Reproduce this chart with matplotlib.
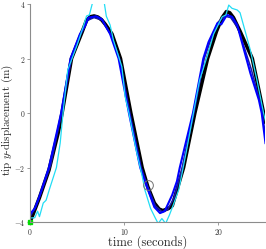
import numpy as np
import matplotlib
matplotlib.use('Agg')
import matplotlib.pyplot as plt

plt.rcParams['font.family'] = 'serif'
plt.rcParams['font.serif'] = ['cmr10', 'DejaVu Serif']
plt.rcParams['mathtext.fontset'] = 'cm'
plt.rcParams['axes.formatter.use_mathtext'] = True

# black: reference trajectory
t_black = [0, 1, 2, 3, 3.4, 4.4, 5.5, 6.0, 6.4, 6.8, 7.2, 7.6, 8.0, 8.7, 9.6, 10.7, 11.9,
           12.5, 13.2, 13.7, 14.1, 14.7, 15.1, 15.7, 16.3, 17.5, 18.85, 19.8, 20.4, 20.85,
           21.2, 21.6, 22.3, 23.6, 24.8, 25.0]
y_black = [-4.0, -3.1, -2.1, -0.7, 0.0, 2.0, 2.95, 3.4, 3.53, 3.56, 3.52, 3.42, 3.25, 2.9,
           2.0, 0.0, -2.0, -2.7, -3.3, -3.52, -3.58, -3.5, -3.4, -2.7, -2.0, 0.0, 2.0, 3.0,
           3.5, 3.72, 3.68, 3.5, 3.0, 2.0, 0.0, -0.35]

# bright blue
t_blue = [0.0, 0.5, 1.0, 2.0, 3.3, 4.3, 5.3, 5.85, 6.2, 7.0, 7.6, 8.5, 9.4, 10.5, 11.7,
          12.4, 13.2, 13.8, 14.3, 15.1, 15.6, 15.9, 17.3, 18.4, 18.95, 19.9, 20.3, 20.9,
          21.45, 22.0, 23.4, 24.3, 24.6, 25.0]
y_blue = [-3.7, -3.5, -3.05, -2.0, 0.0, 2.0, 2.9, 3.2, 3.5, 3.55, 3.45, 2.9, 2.0, 0.0,
          -2.0, -2.7, -3.45, -3.67, -3.6, -3.0, -2.5, -2.0, 0.0, 2.0, 2.6, 3.3, 3.25,
          3.6, 3.53, 3.23, 1.46, 0.48, 0.0, -1.1]

# dark blue
t_navy = [0.0, 0.6, 1.2, 2.2, 3.35, 4.4, 5.4, 6.1, 6.8, 7.7, 8.6, 9.5, 10.6, 11.8, 12.5,
          13.3, 14.0, 14.6, 15.3, 16.1, 17.4, 18.5, 19.4, 20.0, 20.7, 21.3, 22.1, 23.5,
          24.5, 25.0]
y_navy = [-3.8, -3.45, -2.9, -1.9, 0.0, 2.0, 2.9, 3.4, 3.5, 3.4, 2.85, 2.0, 0.0, -2.0,
          -2.7, -3.4, -3.62, -3.55, -3.1, -2.1, 0.0, 2.0, 2.9, 3.35, 3.55, 3.5, 3.1, 1.6,
          0.3, -0.8]

# cyan: noisy estimate
t_cyan = [0.0, 0.5, 0.8, 1.0, 1.4, 1.7, 2.1, 2.8, 3.2, 3.5, 4.0, 5.0, 5.65, 6.0, 6.3, 6.6,
          7.0, 7.4, 7.9, 8.1, 8.5, 8.85, 9.75, 10.1, 10.5, 11.3, 11.9, 12.2, 12.8, 13.3,
          13.6, 14.0, 14.4, 14.8, 15.2, 15.8, 16.1, 16.6, 17.35, 18.0, 18.8, 19.5, 20.4,
          20.8, 21.1, 21.45, 22.0, 22.3, 22.9, 23.4, 24.1, 24.8, 25.0]
y_cyan = [-3.85, -3.84, -3.6, -3.8, -3.3, -3.2, -2.75, -2.0, -1.1, 0.0, 1.58, 2.5, 3.17,
          3.56, 3.6, 4.0, 4.6, 4.6, 4.0, 3.55, 3.23, 2.68, 1.7, 0.6, 0.0, -1.4, -2.3,
          -2.83, -3.5, -3.85, -4.05, -3.87, -4.05, -3.74, -3.38, -2.8, -2.28, -1.4, 0.0,
          1.2, 2.07, 2.9, 3.53, 3.6, 3.96, 3.84, 3.78, 3.68, 2.93, 2.3, 1.2, 0.0, -0.3]

start_pt = (0.0, -4.0)
circle_pt = (12.5, -2.65)

fig = plt.figure(figsize=(2.66, 2.49), dpi=100)
ax = fig.add_axes([0.113, 0.108, 0.885, 0.876])

ax.plot(t_black, y_black, color='black', lw=2.6, solid_capstyle='round', solid_joinstyle='round')
ax.plot(t_navy, y_navy, color='#1a1aa8', lw=1.1)
ax.plot(t_blue, y_blue, color='#0000ff', lw=1.5)
ax.plot(t_cyan, y_cyan, color='#22ddf5', lw=0.9)
ax.plot(*start_pt, 's', color='#00dd00', ms=2.5, clip_on=False)
ax.plot(*circle_pt, 'o', mfc='none', mec='0.45', ms=7, mew=0.7)

ax.set_xlim(0, 25)
ax.set_ylim(-4, 4)
ax.set_xticks([0, 10, 20])
ax.set_yticks([-4, -2, 0, 2, 4])
for s in ['top', 'right']:
    ax.spines[s].set_visible(False)
for s in ['left', 'bottom']:
    ax.spines[s].set_color('0.55')
    ax.spines[s].set_linewidth(0.8)
ax.tick_params(colors='0.55', labelcolor='0.2', labelsize=5.5, length=2.5, width=0.6, pad=1)

ax.set_xlabel('time (seconds)', fontsize=9, color='0.15', labelpad=-1)
ax.set_ylabel('tip $y$-displacement (m)', fontsize=8, color='0.15')
ax.yaxis.set_label_coords(-0.066, 0.47)

fig.savefig('out.png', dpi=100)
